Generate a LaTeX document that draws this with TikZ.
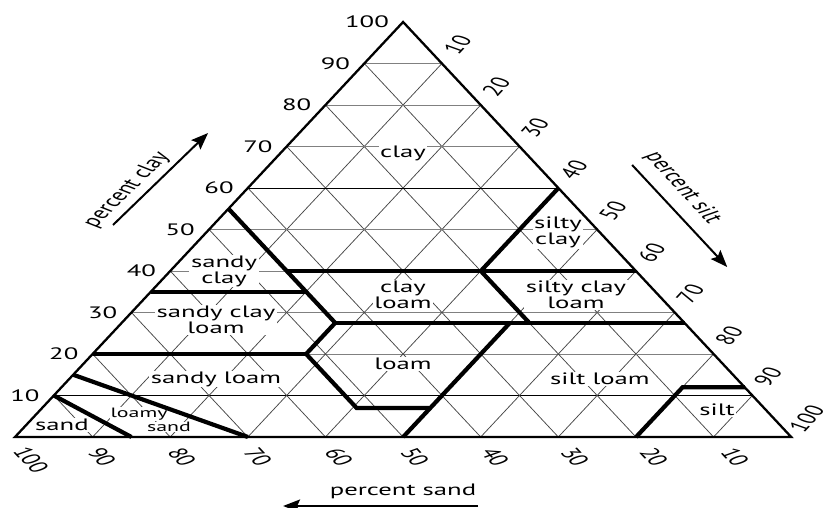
\documentclass[tikz,border=0pt]{standalone}
\usepackage{fontspec}
\setmainfont{PT Sans}
\usetikzlibrary{arrows.meta}

\begin{document}
\begin{tikzpicture}[x=1pt,y=1pt,xscale=1.6194,
  every node/.style={transform shape},
  txt/.style={font=\fontsize{16.5}{16}\selectfont},
  lab/.style={txt, align=center, fill=white, inner sep=1pt},
  smalllab/.style={font=\fontsize{13.5}{13}\selectfont, fill=white, inner sep=0.5pt},
  num/.style={txt, inner sep=0pt},
  gridh/.style={line width=0.75pt, black!50},
  gridhd/.style={line width=0.75pt, black},
  gridd/.style={line width=0.75pt, black!72},
  bnd/.style={line width=4.2pt, line join=miter, line cap=butt},
  frame/.style={line width=2.3pt, line join=miter},
  axarrow/.style={line width=2pt, -{Stealth[length=17pt,width=13pt,inset=3pt]}}]

\useasboundingbox (-9.263,-71) rectangle (501.42,437);
\fill[white] (-9.263,-71) rectangle (501.42,437);

% corners: sand 100 (BL), silt 100 (BR), clay 100 (AP)
\coordinate (BL) at (0,0);
\coordinate (BR) at (479.2,0);
\coordinate (AP) at (239.6,415);

% 10 % grid (weights as fractions)
\foreach \i in {10,20,...,90}{
  \pgfmathsetmacro\pa{\i/100}
  \pgfmathsetmacro\pb{1-\i/100}
  \ifnum\i=10 \def\hs{gridhd}\else\ifnum\i=60 \def\hs{gridhd}\else\def\hs{gridh}\fi\fi
  \draw[\hs] (barycentric cs:BL=\pb,AP=\pa) -- (barycentric cs:BR=\pb,AP=\pa);
  \draw[gridd] (barycentric cs:BL=\pb,BR=\pa) -- (barycentric cs:BR=\pa,AP=\pb);
  \draw[gridd] (barycentric cs:BL=\pa,BR=\pb) -- (barycentric cs:BL=\pa,AP=\pb);
}

% texture class names
\node[lab] (nclay) at (239.6,284) {clay};
\node[lab] (nsiltyclay) at (335.3,205) {silty\\clay};
\node[lab] (nsandyclay) at (129.1,166) {sandy\\clay};
\node[lab] (nclayloam) at (239.6,142) {clay\\loam};
\node[lab] (nsiltyclayloam) at (346.4,142) {silty clay\\loam};
\node[lab] (nsandyclayloam) at (124.1,117) {sandy clay\\loam};
\node[lab] (nloam) at (239.6,73) {loam};
\node[lab] (nsiltloam) at (361.2,58) {silt loam};
\node[lab] (nsandyloam) at (124.1,58) {sandy loam};
\node[lab] (nsilt) at (433.5,27) {silt};
\node[lab] (nsand) at (29.0,12) {sand};
\node[smalllab] (nloamy) at (76.6,23) {loamy};
\node[smalllab] (nloamysand) at (95.1,10) {sand};

% class boundaries, points given as (sand, silt, clay) fractions
\coordinate (a1) at (barycentric cs:BL=.45,AP=.55);
\coordinate (a2) at (barycentric cs:BL=.45,BR=.20,AP=.35);
\coordinate (a3) at (barycentric cs:BL=.45,BR=.275,AP=.275);
\coordinate (a4) at (barycentric cs:BL=.525,BR=.275,AP=.20);
\coordinate (a5) at (barycentric cs:BL=.525,BR=.405,AP=.07);
\coordinate (a6) at (barycentric cs:BL=.43,BR=.50,AP=.07);
\coordinate (b1) at (barycentric cs:BL=.50,BR=.50);
\coordinate (b2) at (barycentric cs:BL=.225,BR=.50,AP=.275);
\coordinate (c1) at (barycentric cs:BL=.45,BR=.15,AP=.40);
\coordinate (c2) at (barycentric cs:BR=.60,AP=.40);
\coordinate (d1) at (barycentric cs:BL=.65,AP=.35);
\coordinate (e2) at (barycentric cs:BR=.725,AP=.275);
\coordinate (f1) at (barycentric cs:BL=.80,AP=.20);
\coordinate (g1) at (barycentric cs:BL=.20,BR=.40,AP=.40);
\coordinate (g2) at (barycentric cs:BR=.40,AP=.60);
\coordinate (h2) at (barycentric cs:BL=.20,BR=.525,AP=.275);
\coordinate (i1) at (barycentric cs:BL=.20,BR=.80);
\coordinate (i2) at (barycentric cs:BL=.08,BR=.80,AP=.12);
\coordinate (i3) at (barycentric cs:BR=.88,AP=.12);
\coordinate (j1) at (barycentric cs:BL=.90,AP=.10);
\coordinate (j2) at (barycentric cs:BL=.85,BR=.15);
\coordinate (k1) at (barycentric cs:BL=.85,AP=.15);
\coordinate (k2) at (barycentric cs:BL=.70,BR=.30);

\draw[bnd] (a1) -- (a2) -- (a3) -- (a4) -- (a5) -- (a6);
\draw[bnd] (b1) -- (b2);
\draw[bnd] (c1) -- (c2);
\draw[bnd] (d1) -- (a2);
\draw[bnd] (a3) -- (e2);
\draw[bnd] (f1) -- (a4);
\draw[bnd] (g1) -- (g2);
\draw[bnd] (g1) -- (h2);
\draw[bnd] (i1) -- (i2) -- (i3);
\draw[bnd] (j1) -- (j2);
\draw[bnd] (k1) -- (k2);

% outline
\draw[frame] (BL) -- (BR) -- (AP) -- cycle;

% percent clay scale (left side)
\foreach \c in {10,20,...,100}{
  \pgfmathsetmacro\pa{\c/100}
  \pgfmathsetmacro\pb{1-\c/100}
  \node[num, anchor=east] (cl\c) at ([xshift=-8.6pt]barycentric cs:BL=\pb,AP=\pa) {\c};
}
% percent silt scale (right side)
\foreach \s in {10,20,...,100}{
  \pgfmathsetmacro\pa{\s/100}
  \pgfmathsetmacro\pb{1-\s/100}
  \node[num, rotate=60] (sl\s) at ([shift={(9.6,18.5)}]barycentric cs:BR=\pa,AP=\pb) {\s};
}
% percent sand scale (bottom)
\foreach \v/\x in {100/9.9, 90/53.7, 80/103.1, 70/150.1, 60/200.1, 50/247.0, 40/296.4, 30/345.8, 20/394.6, 10/444.6}{
  \pgfmathsetmacro\yy{ifthenelse(\v==100,-23,-20)}
  \node[num, rotate=-60] (sd\v) at (\x,\yy) {\v};
}

% axis arrows
\coordinate (ca0) at (60.5,212);
\coordinate (ca1) at (119.2,304);
\draw[axarrow] (ca0) -- (ca1);
\node[txt, rotate=57.5, inner sep=0pt] (tca) at (69.2,247) {percent clay};

\coordinate (sa0) at (381.0,272);
\coordinate (sa1) at (439.7,170);
\draw[axarrow] (sa0) -- (sa1);
\node[txt, rotate=-60, inner sep=0pt] (tsa) at (412.3,249) {percent silt};

\coordinate (na0) at (285.9,-69);
\coordinate (na1) at (165.5,-69);
\draw[axarrow] (na0) -- (na1);
\node[txt, inner sep=0pt] (tna) at (239.6,-54) {percent sand};

\end{tikzpicture}
\end{document}
